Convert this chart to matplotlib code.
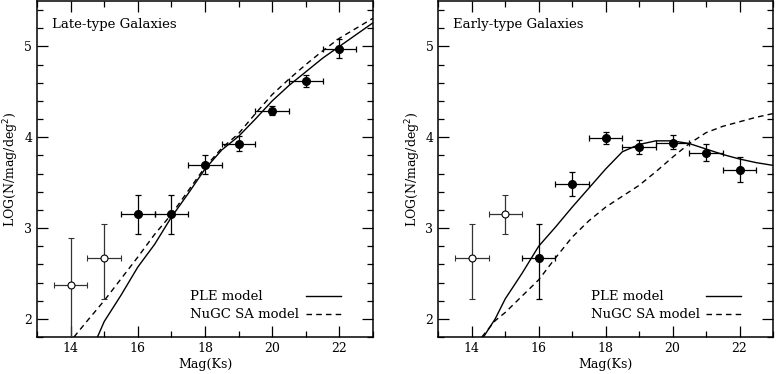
import matplotlib
matplotlib.use("Agg")
import matplotlib.pyplot as plt
import numpy as np

# ---- data: late-type ----
late_open_x = [14, 15]
late_open_y = [2.37, 2.67]
late_open_hi = [2.89, 3.04]
late_open_lo = [1.5, 2.22]
late_fill_x = [16, 17, 18, 19, 20, 21, 22]
late_fill_y = [3.15, 3.15, 3.69, 3.93, 4.29, 4.62, 4.97]
late_fill_hi = [3.36, 3.36, 3.80, 4.01, 4.34, 4.69, 5.08]
late_fill_lo = [2.93, 2.93, 3.60, 3.85, 4.24, 4.55, 4.87]

late_ple_x = [14.8, 15.0, 15.5, 16.0, 16.5, 17.0, 17.5, 18.0, 18.5, 19.0, 19.5, 20.0, 20.5, 21.0, 21.5, 22.0, 22.5, 23.0]
late_ple_y = [1.8, 1.97, 2.26, 2.57, 2.82, 3.12, 3.38, 3.65, 3.86, 4.01, 4.20, 4.40, 4.57, 4.72, 4.87, 5.00, 5.13, 5.26]
late_sa_x = [14.1, 14.5, 15.0, 15.5, 16.0, 16.5, 17.0, 17.5, 18.0, 18.5, 19.0, 19.5, 20.0, 20.5, 21.0, 21.5, 22.0, 22.5, 23.0]
late_sa_y = [1.8, 1.98, 2.2, 2.44, 2.68, 2.93, 3.15, 3.41, 3.67, 3.88, 4.04, 4.26, 4.47, 4.64, 4.80, 4.95, 5.09, 5.20, 5.31]

# ---- data: early-type ----
early_open_x = [14, 15]
early_open_y = [2.67, 3.15]
early_open_hi = [3.04, 3.36]
early_open_lo = [2.22, 2.93]
early_fill_x = [16, 17, 18, 19, 20, 21, 22]
early_fill_y = [2.67, 3.49, 3.99, 3.89, 3.94, 3.83, 3.64]
early_fill_hi = [3.04, 3.62, 4.06, 3.97, 4.02, 3.92, 3.78]
early_fill_lo = [2.22, 3.35, 3.92, 3.81, 3.87, 3.74, 3.51]

early_ple_x = [14.35, 14.7, 15.0, 15.5, 16.0, 16.5, 17.0, 17.5, 18.0, 18.5, 19.0, 19.5, 20.0, 20.5, 21.0, 21.5, 22.0, 22.5, 23.0]
early_ple_y = [1.8, 2.0, 2.22, 2.5, 2.8, 3.01, 3.23, 3.44, 3.65, 3.84, 3.92, 3.96, 3.96, 3.93, 3.87, 3.81, 3.76, 3.72, 3.69]
early_sa_x = [14.3, 14.7, 15.0, 15.5, 16.0, 16.5, 17.0, 17.5, 18.0, 18.5, 19.0, 19.5, 20.0, 20.5, 21.0, 21.5, 22.0, 22.5, 23.0]
early_sa_y = [1.8, 1.98, 2.07, 2.25, 2.43, 2.67, 2.9, 3.08, 3.23, 3.35, 3.47, 3.62, 3.78, 3.93, 4.05, 4.12, 4.17, 4.22, 4.26]

titles = ["Late-type Galaxies", "Early-type Galaxies"]
legend_labels = ["PLE model", "NuGC SA model"]
xerr_half = 0.5

plt.rcParams['font.family'] = ['DejaVu Serif']

fig = plt.figure(figsize=(7.76, 3.74), dpi=100)
ax1 = fig.add_axes([37/776, 37/374, 336/776, 336/374])
ax2 = fig.add_axes([438.3/776, 37/374, 334.7/776, 336/374])

panels = [
    (ax1, late_open_x, late_open_y, late_open_hi, late_open_lo,
     late_fill_x, late_fill_y, late_fill_hi, late_fill_lo,
     late_ple_x, late_ple_y, late_sa_x, late_sa_y, titles[0]),
    (ax2, early_open_x, early_open_y, early_open_hi, early_open_lo,
     early_fill_x, early_fill_y, early_fill_hi, early_fill_lo,
     early_ple_x, early_ple_y, early_sa_x, early_sa_y, titles[1]),
]

dash = (0, (4, 3))
for (ax, ox, oy, ohi, olo, fx, fy, fhi, flo, px, py, sx, sy, title) in panels:
    oy_a = np.array(oy); fy_a = np.array(fy)
    oerr = [oy_a - np.array(olo), np.array(ohi) - oy_a]
    ferr = [fy_a - np.array(flo), np.array(fhi) - fy_a]
    ax.errorbar(ox, oy, yerr=oerr, xerr=xerr_half, fmt='o', ms=5, mfc='white',
                mec='black', mew=0.8, ecolor='#333333', elinewidth=0.9, capsize=2.5,
                capthick=0.9, zorder=3)
    ax.errorbar(fx, fy, yerr=ferr, xerr=xerr_half, fmt='o', ms=5.5, mfc='black',
                mec='black', ecolor='black', elinewidth=0.9, capsize=2.5,
                capthick=0.9, zorder=3)
    ax.plot(px, py, color='black', lw=1.0)
    ax.plot(sx, sy, color='black', lw=1.0, ls=dash)
    ax.set_xlim(13, 23)
    ax.set_ylim(1.8, 5.5)
    ax.set_xticks([14, 16, 18, 20, 22])
    ax.set_xticks(np.arange(13, 24, 1), minor=True)
    ax.set_yticks([2, 3, 4, 5])
    ax.set_yticks(np.arange(1.8, 5.51, 0.2), minor=True)
    ax.tick_params(which='both', direction='in', top=True, right=True, labelsize=9, width=0.9)
    ax.tick_params(which='major', length=8)
    ax.tick_params(which='minor', length=4)
    for sp in ax.spines.values():
        sp.set_linewidth(1.1)
    ax.set_xlabel('Mag(Ks)', fontsize=9, labelpad=2)
    ax.set_ylabel('LOG(N/mag/deg$^2$)', fontsize=9, labelpad=2)
    ax.text(0.045, 0.93, title, transform=ax.transAxes, fontsize=9.5, va='center', ha='left')
    # legend (left-aligned labels, line samples on the right)
    for lab, ls, yy in zip(legend_labels, ['-', dash], [0.122, 0.068]):
        ax.text(0.455, yy, lab, transform=ax.transAxes, fontsize=9.5, va='center', ha='left')
        ax.plot([0.8, 0.905], [yy, yy], transform=ax.transAxes, color='black', lw=1.0, ls=ls)

fig.savefig('out.png', dpi=100)
